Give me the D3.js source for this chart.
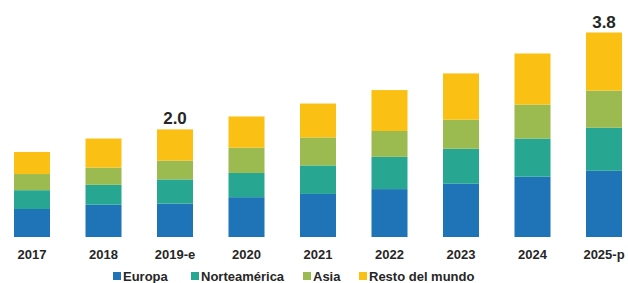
<!DOCTYPE html>
<html>
<head>
<meta charset="utf-8">
<script src="https://cdn.jsdelivr.net/npm/d3@7"></script>
<style>
  body { margin: 0; background: #fff; }
  svg { display: block; font-family: "Liberation Sans", Arial, sans-serif; }
  .tick text { font-weight: bold; font-size: 13px; fill: #262626; }
  .total { font-weight: bold; font-size: 17px; fill: #262626; }
  .legend text { font-weight: bold; font-size: 13px; fill: #262626; }
</style>
</head>
<body>
<svg width="628" height="283"></svg>
<script>
'use strict';

// Years on the x axis
const years = ['2017', '2018', '2019-e', '2020', '2021', '2022', '2023', '2024', '2025-p'];

// Regions, bottom to top
const regions = ['Europa', 'Norteamérica', 'Asia', 'Resto del mundo'];
const colors = ['#1f73b7', '#27a791', '#9bba50', '#fbc014'];

const europa       = [0.52, 0.60, 0.62, 0.74, 0.80, 0.89, 0.99, 1.12, 1.23];
const norteamerica = [0.35, 0.37, 0.45, 0.45, 0.53, 0.60, 0.65, 0.71, 0.80];
const asia         = [0.30, 0.32, 0.35, 0.47, 0.52, 0.48, 0.54, 0.63, 0.69];
const resto        = [0.41, 0.54, 0.58, 0.58, 0.63, 0.76, 0.86, 0.95, 1.08];

// Only these totals are printed on top
const totalLabels = { '2019-e': '2.0', '2025-p': '3.8' };

const svg = d3.select('svg');
const baseY = 237;

const rows = years.map((y, i) => ({
  year: y,
  'Europa': europa[i],
  'Norteamérica': norteamerica[i],
  'Asia': asia[i],
  'Resto del mundo': resto[i],
}));

const x = d3.scaleBand()
  .domain(years)
  .range([-0.3, 636.3])
  .paddingInner(0.4965)
  .paddingOuter(0.2);

const y = d3.scaleLinear()
  .domain([0, 3.8])
  .range([baseY, 32.5]);

const stacked = d3.stack().keys(regions)(rows);

svg.append('g')
  .selectAll('g')
  .data(stacked)
  .join('g')
  .attr('fill', (d, i) => colors[i])
  .selectAll('rect')
  .data(d => d)
  .join('rect')
  .attr('x', d => x(d.data.year))
  .attr('width', x.bandwidth())
  .attr('y', d => y(d[1]))
  .attr('height', d => y(d[0]) - y(d[1]));

// Totals
svg.append('g')
  .selectAll('text')
  .data(rows.filter(r => totalLabels[r.year]))
  .join('text')
  .attr('class', 'total')
  .attr('text-anchor', 'middle')
  .attr('x', d => x(d.year) + x.bandwidth() / 2)
  .attr('y', d => y(regions.reduce((s, k) => s + d[k], 0)) - 5)
  .text(d => totalLabels[d.year]);

// X axis
const axis = svg.append('g')
  .attr('transform', `translate(0,${baseY})`)
  .call(d3.axisBottom(x).tickSize(0).tickPadding(13));
axis.select('.domain').remove();

// Legend
const legendX = [113, 191, 303, 359];
const legend = svg.append('g')
  .attr('class', 'legend')
  .selectAll('g')
  .data(regions)
  .join('g')
  .attr('transform', (d, i) => `translate(${legendX[i]},272)`);

legend.append('rect')
  .attr('width', 8)
  .attr('height', 8)
  .attr('fill', (d, i) => colors[i]);

legend.append('text')
  .attr('x', 10)
  .attr('y', 8.5)
  .text(d => d);
</script>
</body>
</html>
